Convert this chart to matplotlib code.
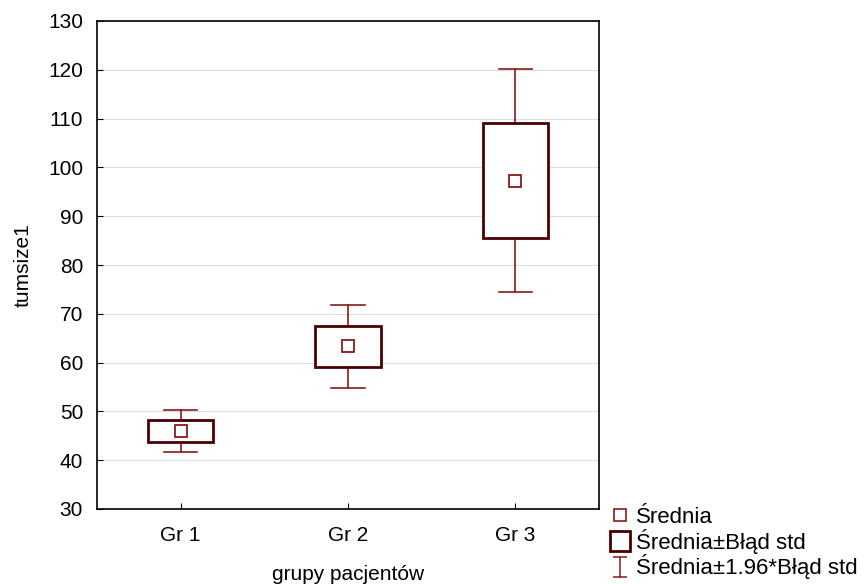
import numpy as np
import matplotlib.pyplot as plt
from matplotlib.patches import Rectangle
from matplotlib.lines import Line2D
from matplotlib.path import Path

plt.rcParams['font.family'] = ['Liberation Sans', 'DejaVu Sans']

# data
groups = ["Gr 1", "Gr 2", "Gr 3"]
means = [46.0, 63.3, 97.3]
se = [2.2, 4.3, 11.7]

mean_col = "#8b1a1a"
box_col = "#4a0000"
whisk_col = "#8b1a1a"

fig = plt.figure(figsize=(8.67, 5.85), dpi=100)
ax = fig.add_axes([97 / 867, 1 - 509 / 585, 502 / 867, 488 / 585])

x = np.arange(1, len(groups) + 1)
box_w = 0.39
cap_w = 0.2

for xi, m, s in zip(x, means, se):
    ci = 1.96 * s
    # whiskers
    ax.plot([xi, xi], [m + s, m + ci], color=whisk_col, lw=1.2, zorder=2)
    ax.plot([xi, xi], [m - s, m - ci], color=whisk_col, lw=1.2, zorder=2)
    ax.plot([xi - cap_w / 2, xi + cap_w / 2], [m + ci, m + ci], color=whisk_col, lw=1.2, zorder=2)
    ax.plot([xi - cap_w / 2, xi + cap_w / 2], [m - ci, m - ci], color=whisk_col, lw=1.2, zorder=2)
    # box (mean +- se)
    ax.add_patch(Rectangle((xi - box_w / 2, m - s), box_w, 2 * s,
                           facecolor="white", edgecolor=box_col, lw=2, zorder=3))
    # mean
    ax.plot(xi, m, marker="s", ms=8.5, mfc="white", mec=mean_col, mew=1.3, zorder=4)

ax.set_xlim(0.5, 3.5)
ax.set_ylim(30, 130)
ax.set_yticks(np.arange(30, 131, 10))
ax.set_xticks(x)
ax.set_xticklabels(groups)
ax.yaxis.grid(True, color="#dddddd", lw=0.8)
ax.set_axisbelow(True)
ax.tick_params(direction="in", length=4, labelsize=15)
ax.tick_params(axis="y", pad=10)
ax.tick_params(axis="x", pad=12)
for sp in ax.spines.values():
    sp.set_linewidth(1.2)

ax.set_ylabel("tumsize1", fontsize=15, labelpad=11)
ax.set_xlabel("grupy pacjentów", fontsize=15, labelpad=15)

# I-beam marker for the legend
ibeam = Path([(-0.7, 1), (0.7, 1), (0, 1), (0, -1), (-0.7, -1), (0.7, -1)],
             [Path.MOVETO, Path.LINETO, Path.MOVETO, Path.LINETO, Path.MOVETO, Path.LINETO])

handles = [
    Line2D([], [], marker="s", ls="none", ms=8, mfc="white", mec=mean_col, mew=1.2),
    Line2D([], [], marker="s", ls="none", ms=14, mfc="white", mec=box_col, mew=2),
    Line2D([], [], marker=ibeam, ls="none", ms=14, mfc="none", mec=whisk_col, mew=1.1),
]
labels = ["Średnia", "Średnia±Błąd std", "Średnia±1.96*Błąd std"]
fig.legend(handles, labels, loc="lower left", bbox_to_anchor=(596 / 867, -0.017),
           frameon=False, fontsize=16, handlelength=0.8, handletextpad=0.3,
           labelspacing=0.03, borderpad=0.2)

fig.savefig("out.png", dpi=100)
